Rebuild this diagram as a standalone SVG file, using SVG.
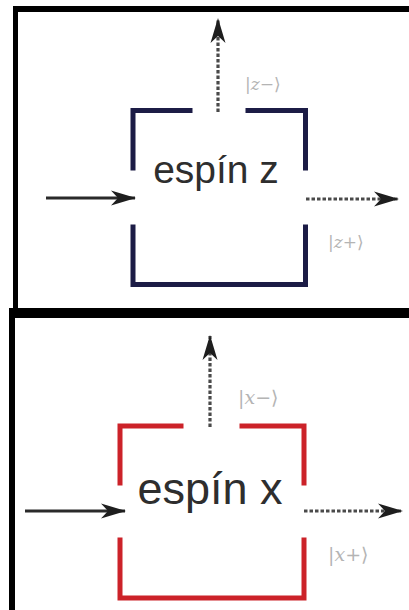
<svg xmlns="http://www.w3.org/2000/svg" width="409" height="610" viewBox="0 0 409 610">
<defs>
<style>
.frame{fill:#000}
.bz{fill:none;stroke:#1c1c46;stroke-width:5;stroke-linecap:square}
.bx{fill:none;stroke:#cc2229;stroke-width:5;stroke-linecap:square}
.title{font-family:"Liberation Sans",Arial,sans-serif;fill:#2e2e2e;text-anchor:middle}
.ket{font-family:"DejaVu Serif","Liberation Serif",serif;fill:#b4b4b4}
.solid{fill:none;stroke:#2a2a2a;stroke-width:2.8}
.dot{fill:none;stroke:#4a4a4a;stroke-width:3.2;stroke-dasharray:3.5 2}
</style>
<marker id="ah" viewBox="0 0 26 18" refX="24" refY="9" markerWidth="26" markerHeight="18" markerUnits="userSpaceOnUse" orient="auto">
<path d="M0,1.5 L25,9 L0,16.5 L7,9 Z" fill="#1e1e1e"/>
</marker>
</defs>
<rect width="409" height="610" fill="#fff"/>
<g id="panel-z">
<rect class="frame" x="13" y="6" width="396" height="6"/>
<rect class="frame" x="13" y="6" width="5" height="302"/>
</g>
<g id="panel-x">
<rect class="frame" x="10" y="308" width="399" height="10"/>
<rect class="frame" x="9" y="308" width="6" height="302"/>
</g>
<g id="node-espin-z">
<path class="bz" d="M133,168 V110.5 H190 M248,110.5 H305.5 V168 M133,227 V284.5 H305.5 V227"/>
<text class="title" x="216" y="183" font-size="39">espín z</text>
</g>
<g id="node-espin-x">
<path class="bx" d="M120,483 V426 H181 M242,426 H304 V483 M120,540 V598 H304 V540"/>
<text class="title" x="210" y="504" font-size="45">espín x</text>
</g>
<g id="connectors">
<line class="solid" x1="46" y1="198" x2="135" y2="198" marker-end="url(#ah)"/>
<line class="dot" x1="306" y1="199" x2="398" y2="199" marker-end="url(#ah)"/>
<line class="dot" x1="218" y1="112" x2="218" y2="19" marker-end="url(#ah)"/>
<line class="solid" x1="25" y1="511" x2="125" y2="511" marker-end="url(#ah)"/>
<line class="dot" x1="304" y1="511" x2="402" y2="511" marker-end="url(#ah)"/>
<line class="dot" x1="210" y1="427" x2="210" y2="336" marker-end="url(#ah)"/>
</g>
<g id="labels">
<text class="ket" x="245" y="90" font-size="17">|<tspan font-style="italic">z</tspan>−⟩</text>
<text class="ket" x="328" y="248" font-size="17">|<tspan font-style="italic">z</tspan>+⟩</text>
<text class="ket" x="238" y="404" font-size="19">|<tspan font-style="italic">x</tspan>−⟩</text>
<text class="ket" x="328" y="561" font-size="19">|<tspan font-style="italic">x</tspan>+⟩</text>
</g>
</svg>
